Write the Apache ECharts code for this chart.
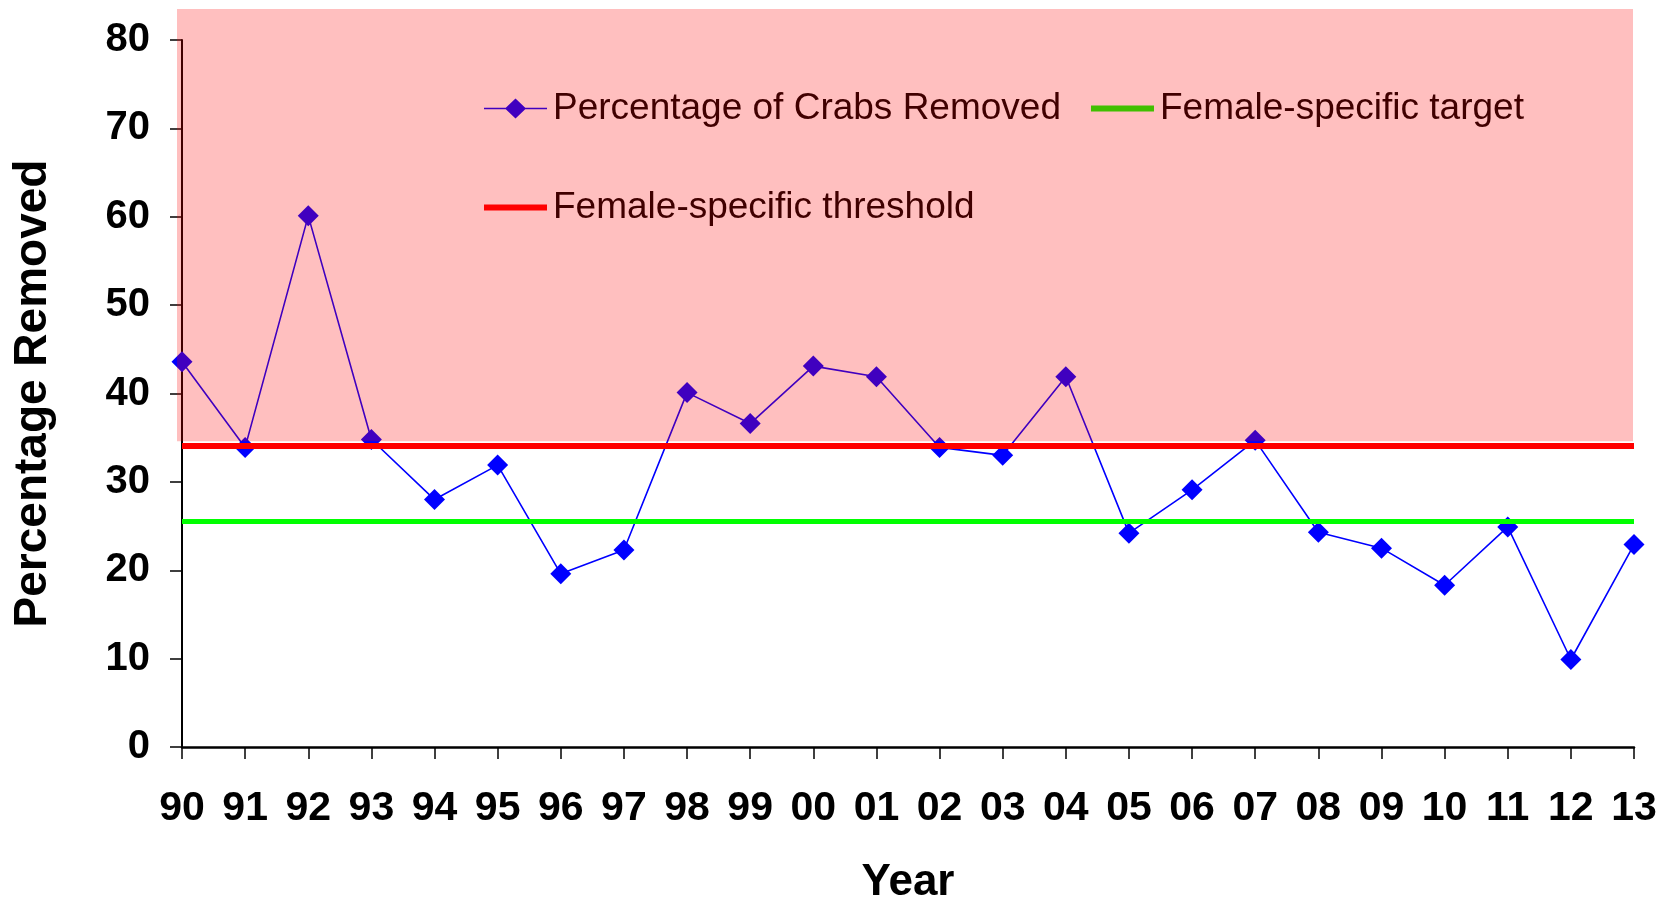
<!DOCTYPE html>
<html>
<head>
<meta charset="utf-8">
<script src="https://cdn.jsdelivr.net/npm/echarts@6/dist/echarts.min.js"></script>
<style>
  html, body { margin: 0; padding: 0; background: #fff; }
  #chart { width: 1671px; height: 903px; }
</style>
</head>
<body>
<div id="chart"></div>
<script>
// categories (two-digit years)
const years = ['90','91','92','93','94','95','96','97','98','99','00','01','02','03','04','05','06','07','08','09','10','11','12','13'];
// percentage of crabs removed
const removed = [43.6, 33.9, 60.1, 34.8, 28.0, 31.9, 19.6, 22.3, 40.1, 36.6, 43.1, 41.9, 33.9, 33.0, 41.9, 24.2, 29.1, 34.7, 24.3, 22.5, 18.3, 24.9, 9.9, 22.9];
// reference levels
const threshold = 34.1;
const target = 25.6;
// shaded zone (above threshold)
const zoneFrom = 34.6;
const zoneTo = 83.5;
// y axis ticks
const yMin = 0, yMax = 80, yStep = 10;

const font = 'Liberation Sans, Arial, sans-serif';
// legend icons: thin line with diamond, and a thick bar (with invisible points to keep the height)
const lineDiamondIcon = 'path://M0,9.3H63V10.7H0Z M31.5,0L42,10L31.5,20L21,10Z';
const barIcon = 'path://M0,0L0,0 M0,20L0,20 M0,7H63V13H0Z';

let chart = echarts.init(document.getElementById('chart'));
let legendText = { fontSize: 37, fontFamily: font, color: '#000', padding: [0, 0, 0, 1] };
let option = {
  animation: false,
  backgroundColor: '#fff',
  grid: [
    { left: 182, right: 37, top: 40, bottom: 156, outerBoundsMode: 'none', containLabel: false },
    { left: 177, right: 38, top: 9, bottom: 156, outerBoundsMode: 'none', containLabel: false }   // only used for the shaded zone
  ],
  legend: [
    {
      data: [
        { name: 'Percentage of Crabs Removed', icon: lineDiamondIcon },
        { name: 'Female-specific target', icon: barIcon }
      ],
      left: 479, top: 85, z: 3,
      itemWidth: 63, itemHeight: 20, itemGap: 30,
      textStyle: legendText
    },
    {
      data: [{ name: 'Female-specific threshold', icon: barIcon }],
      left: 479, top: 184, z: 3,
      itemWidth: 63, itemHeight: 20,
      textStyle: legendText
    }
  ],
  xAxis: [
    {
      type: 'category', gridIndex: 0, data: years, boundaryGap: false,
      name: 'Year', nameLocation: 'middle', nameGap: 114,
      nameTextStyle: { fontSize: 44, fontWeight: 'bold', fontFamily: font, color: '#000' },
      axisLine: { lineStyle: { color: '#000', width: 2.5 } },
      axisTick: { alignWithLabel: true, length: 12, lineStyle: { color: '#000', width: 1.5 } },
      axisLabel: { interval: 0, margin: 41, fontSize: 41, fontWeight: 'bold', fontFamily: font, color: '#000' },
      splitLine: { show: false }
    },
    { type: 'category', gridIndex: 1, data: years, boundaryGap: false, show: false }
  ],
  yAxis: [
    {
      type: 'value', gridIndex: 0, min: yMin, max: yMax, interval: yStep,
      name: 'Percentage Removed', nameLocation: 'middle', nameRotate: 90, nameGap: 126,
      nameTextStyle: { fontSize: 46, fontWeight: 'bold', fontFamily: font, color: '#000' },
      axisLine: { show: true, lineStyle: { color: '#000', width: 2 } },
      axisTick: { show: true, length: 12, lineStyle: { color: '#000', width: 1.5 } },
      axisLabel: { margin: 32, fontSize: 40, fontWeight: 'bold', fontFamily: font, color: '#000' },
      splitLine: { show: false }
    },
    { type: 'value', gridIndex: 1, min: yMin, max: zoneTo, show: false }
  ],
  series: [
    {
      name: 'Percentage of Crabs Removed',
      type: 'line',
      data: removed,
      z: 4,
      symbol: 'diamond',
      symbolSize: 21,
      lineStyle: { color: '#0000ff', width: 1.6 },
      itemStyle: { color: '#0000ff' }
    },
    {
      name: 'Female-specific target',
      type: 'line',
      data: [],
      symbol: 'none',
      lineStyle: { color: '#00ff00', width: 5 },
      itemStyle: { color: '#00ff00' },
      markLine: {
        silent: true, symbol: 'none', label: { show: false },
        lineStyle: { color: '#00ff00', width: 5, type: 'solid' },
        data: [{ yAxis: target }]
      }
    },
    {
      name: 'Female-specific threshold',
      type: 'line',
      data: [],
      symbol: 'none',
      lineStyle: { color: '#ff0000', width: 6 },
      itemStyle: { color: '#ff0000' },
      markLine: {
        silent: true, symbol: 'none', label: { show: false },
        lineStyle: { color: '#ff0000', width: 6, type: 'solid' },
        data: [{ yAxis: threshold }]
      }
    },
    {
      name: 'zone',
      type: 'line',
      xAxisIndex: 1, yAxisIndex: 1,
      data: [],
      markArea: {
        silent: true, z: 10,
        itemStyle: { color: 'rgba(255,0,0,0.25)' },
        data: [[{ yAxis: zoneFrom }, { yAxis: zoneTo }]]
      }
    }
  ]
};
chart.setOption(option);
</script>
</body>
</html>
